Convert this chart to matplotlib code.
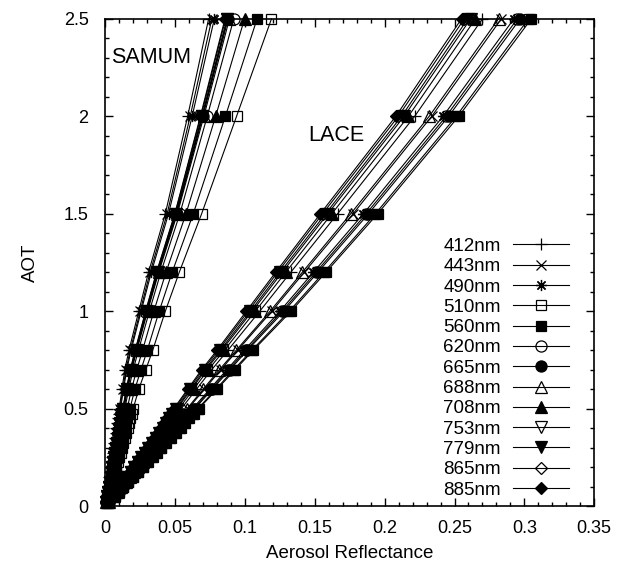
import matplotlib
matplotlib.use("Agg")
import matplotlib.pyplot as plt
from matplotlib.ticker import MultipleLocator, FuncFormatter

plt.rcParams['font.family'] = ['Liberation Sans', 'DejaVu Sans']

# AOT levels of the look-up table
aot = [0.02, 0.05, 0.075, 0.1, 0.125, 0.15, 0.175, 0.2, 0.225, 0.25, 0.275, 0.3,
       0.325, 0.35, 0.375, 0.4, 0.425, 0.45, 0.475, 0.5, 0.6, 0.7, 0.8, 1.0,
       1.2, 1.5, 2.0, 2.5]

wavelengths = ["412nm", "443nm", "490nm", "510nm", "560nm", "620nm", "665nm",
               "688nm", "708nm", "753nm", "779nm", "865nm", "885nm"]

# aerosol reflectance, SAMUM (dust) case
samum_412 = [0.0005, 0.0010, 0.0015, 0.0020, 0.0025, 0.0030, 0.0035, 0.0040, 0.0045, 0.0050, 0.0055, 0.0060, 0.0065, 0.0070, 0.0075, 0.0080, 0.0085, 0.0090, 0.0095, 0.0100, 0.0120, 0.0140, 0.0170, 0.0240, 0.0310, 0.0430, 0.0590, 0.0740]
samum_443 = [0.0005, 0.0011, 0.0016, 0.0022, 0.0027, 0.0032, 0.0037, 0.0042, 0.0047, 0.0053, 0.0058, 0.0063, 0.0068, 0.0074, 0.0079, 0.0084, 0.0089, 0.0095, 0.0100, 0.0105, 0.0126, 0.0148, 0.0179, 0.0250, 0.0321, 0.0443, 0.0608, 0.0763]
samum_490 = [0.0006, 0.0012, 0.0017, 0.0023, 0.0028, 0.0034, 0.0039, 0.0044, 0.0049, 0.0055, 0.0060, 0.0065, 0.0070, 0.0076, 0.0081, 0.0087, 0.0092, 0.0098, 0.0103, 0.0109, 0.0131, 0.0154, 0.0185, 0.0257, 0.0330, 0.0453, 0.0622, 0.0781]
samum_510 = [0.0015, 0.0030, 0.0040, 0.0050, 0.0060, 0.0070, 0.0075, 0.0080, 0.0090, 0.0100, 0.0110, 0.0120, 0.0130, 0.0140, 0.0150, 0.0160, 0.0170, 0.0180, 0.0190, 0.0200, 0.0240, 0.0290, 0.0340, 0.0430, 0.0530, 0.0690, 0.0940, 0.1190]
samum_560 = [0.0013, 0.0025, 0.0034, 0.0043, 0.0052, 0.0061, 0.0066, 0.0071, 0.0080, 0.0089, 0.0097, 0.0106, 0.0115, 0.0124, 0.0133, 0.0142, 0.0150, 0.0159, 0.0168, 0.0177, 0.0212, 0.0256, 0.0301, 0.0386, 0.0479, 0.0630, 0.0860, 0.1087]
samum_620 = [0.0009, 0.0018, 0.0025, 0.0032, 0.0039, 0.0046, 0.0051, 0.0056, 0.0063, 0.0070, 0.0077, 0.0084, 0.0091, 0.0098, 0.0105, 0.0112, 0.0119, 0.0126, 0.0133, 0.0140, 0.0168, 0.0200, 0.0238, 0.0316, 0.0398, 0.0534, 0.0730, 0.0920]
samum_665 = [0.0008, 0.0016, 0.0022, 0.0029, 0.0035, 0.0042, 0.0047, 0.0052, 0.0059, 0.0066, 0.0072, 0.0079, 0.0085, 0.0092, 0.0098, 0.0105, 0.0111, 0.0118, 0.0124, 0.0131, 0.0157, 0.0187, 0.0223, 0.0299, 0.0378, 0.0511, 0.0699, 0.0880]
samum_688 = [0.0008, 0.0017, 0.0023, 0.0030, 0.0036, 0.0043, 0.0048, 0.0053, 0.0060, 0.0067, 0.0073, 0.0080, 0.0086, 0.0093, 0.0099, 0.0106, 0.0113, 0.0120, 0.0126, 0.0133, 0.0160, 0.0190, 0.0226, 0.0303, 0.0383, 0.0516, 0.0706, 0.0889]
samum_708 = [0.0011, 0.0021, 0.0029, 0.0037, 0.0045, 0.0053, 0.0058, 0.0063, 0.0071, 0.0079, 0.0086, 0.0094, 0.0102, 0.0110, 0.0118, 0.0126, 0.0133, 0.0141, 0.0149, 0.0157, 0.0188, 0.0226, 0.0267, 0.0348, 0.0435, 0.0578, 0.0790, 0.0997]
samum_753 = [0.0008, 0.0016, 0.0022, 0.0029, 0.0035, 0.0042, 0.0047, 0.0052, 0.0058, 0.0065, 0.0071, 0.0078, 0.0084, 0.0091, 0.0097, 0.0104, 0.0110, 0.0117, 0.0123, 0.0130, 0.0156, 0.0185, 0.0221, 0.0297, 0.0376, 0.0508, 0.0695, 0.0875]
samum_779 = [0.0008, 0.0016, 0.0022, 0.0029, 0.0035, 0.0042, 0.0047, 0.0052, 0.0058, 0.0065, 0.0071, 0.0077, 0.0083, 0.0090, 0.0096, 0.0103, 0.0109, 0.0116, 0.0122, 0.0129, 0.0155, 0.0184, 0.0219, 0.0295, 0.0374, 0.0505, 0.0692, 0.0871]
samum_865 = [0.0008, 0.0015, 0.0021, 0.0028, 0.0034, 0.0041, 0.0046, 0.0051, 0.0057, 0.0064, 0.0070, 0.0076, 0.0082, 0.0089, 0.0095, 0.0102, 0.0108, 0.0114, 0.0120, 0.0127, 0.0152, 0.0181, 0.0216, 0.0291, 0.0369, 0.0500, 0.0685, 0.0862]
samum_885 = [0.0008, 0.0015, 0.0021, 0.0028, 0.0034, 0.0040, 0.0045, 0.0050, 0.0056, 0.0063, 0.0069, 0.0076, 0.0082, 0.0088, 0.0094, 0.0101, 0.0107, 0.0113, 0.0119, 0.0126, 0.0151, 0.0179, 0.0214, 0.0289, 0.0367, 0.0498, 0.0681, 0.0857]

# aerosol reflectance, LACE (continental) case
lace_412 = [0.0023, 0.0056, 0.0083, 0.0109, 0.0137, 0.0165, 0.0193, 0.0221, 0.0249, 0.0277, 0.0304, 0.0330, 0.0358, 0.0386, 0.0414, 0.0442, 0.0465, 0.0488, 0.0516, 0.0544, 0.0653, 0.0762, 0.0878, 0.1106, 0.1328, 0.1663, 0.2215, 0.2700]
lace_443 = [0.0026, 0.0061, 0.0089, 0.0117, 0.0148, 0.0179, 0.0210, 0.0240, 0.0271, 0.0301, 0.0329, 0.0357, 0.0388, 0.0418, 0.0449, 0.0480, 0.0506, 0.0531, 0.0562, 0.0593, 0.0710, 0.0827, 0.0948, 0.1192, 0.1425, 0.1774, 0.2337, 0.2835]
lace_490 = [0.0028, 0.0065, 0.0094, 0.0123, 0.0156, 0.0188, 0.0221, 0.0253, 0.0286, 0.0318, 0.0347, 0.0375, 0.0408, 0.0440, 0.0473, 0.0505, 0.0533, 0.0560, 0.0593, 0.0625, 0.0748, 0.0870, 0.0995, 0.1250, 0.1490, 0.1848, 0.2418, 0.2925]
lace_510 = [0.0030, 0.0069, 0.0099, 0.0129, 0.0164, 0.0198, 0.0233, 0.0267, 0.0302, 0.0336, 0.0366, 0.0396, 0.0431, 0.0465, 0.0500, 0.0534, 0.0564, 0.0594, 0.0629, 0.0663, 0.0792, 0.0920, 0.1050, 0.1317, 0.1566, 0.1934, 0.2512, 0.3030]
lace_560 = [0.0030, 0.0070, 0.0100, 0.0130, 0.0165, 0.0200, 0.0235, 0.0270, 0.0305, 0.0340, 0.0370, 0.0400, 0.0435, 0.0470, 0.0505, 0.0540, 0.0570, 0.0600, 0.0635, 0.0670, 0.0800, 0.0930, 0.1060, 0.1330, 0.1580, 0.1950, 0.2530, 0.3050]
lace_620 = [0.0028, 0.0066, 0.0095, 0.0124, 0.0157, 0.0190, 0.0223, 0.0256, 0.0289, 0.0322, 0.0351, 0.0380, 0.0413, 0.0446, 0.0479, 0.0512, 0.0540, 0.0568, 0.0601, 0.0634, 0.0758, 0.0882, 0.1008, 0.1266, 0.1508, 0.1868, 0.2440, 0.2950]
lace_665 = [0.0028, 0.0067, 0.0096, 0.0125, 0.0159, 0.0192, 0.0226, 0.0259, 0.0293, 0.0326, 0.0355, 0.0384, 0.0418, 0.0451, 0.0485, 0.0518, 0.0546, 0.0574, 0.0608, 0.0641, 0.0766, 0.0892, 0.1018, 0.1279, 0.1522, 0.1884, 0.2458, 0.2970]
lace_688 = [0.0025, 0.0061, 0.0089, 0.0116, 0.0147, 0.0177, 0.0207, 0.0237, 0.0268, 0.0298, 0.0326, 0.0353, 0.0384, 0.0414, 0.0444, 0.0474, 0.0500, 0.0525, 0.0555, 0.0585, 0.0701, 0.0817, 0.0938, 0.1180, 0.1411, 0.1757, 0.2319, 0.2815]
lace_708 = [0.0022, 0.0054, 0.0080, 0.0106, 0.0133, 0.0160, 0.0187, 0.0214, 0.0241, 0.0268, 0.0294, 0.0320, 0.0347, 0.0374, 0.0401, 0.0428, 0.0450, 0.0472, 0.0499, 0.0526, 0.0632, 0.0738, 0.0852, 0.1074, 0.1292, 0.1622, 0.2170, 0.2650]
lace_753 = [0.0021, 0.0053, 0.0079, 0.0104, 0.0131, 0.0157, 0.0183, 0.0209, 0.0236, 0.0262, 0.0288, 0.0313, 0.0340, 0.0366, 0.0392, 0.0418, 0.0440, 0.0461, 0.0487, 0.0513, 0.0617, 0.0721, 0.0834, 0.1052, 0.1267, 0.1593, 0.2139, 0.2615]
lace_779 = [0.0021, 0.0052, 0.0078, 0.0103, 0.0129, 0.0155, 0.0181, 0.0206, 0.0232, 0.0258, 0.0284, 0.0309, 0.0335, 0.0361, 0.0387, 0.0413, 0.0434, 0.0454, 0.0480, 0.0506, 0.0609, 0.0712, 0.0823, 0.1039, 0.1252, 0.1577, 0.2121, 0.2595]
lace_865 = [0.0020, 0.0051, 0.0076, 0.0101, 0.0127, 0.0152, 0.0178, 0.0203, 0.0229, 0.0254, 0.0279, 0.0304, 0.0330, 0.0355, 0.0381, 0.0406, 0.0426, 0.0446, 0.0472, 0.0497, 0.0598, 0.0700, 0.0810, 0.1023, 0.1234, 0.1556, 0.2098, 0.2570]
lace_885 = [0.0020, 0.0050, 0.0075, 0.0100, 0.0125, 0.0150, 0.0175, 0.0200, 0.0225, 0.0250, 0.0275, 0.0300, 0.0325, 0.0350, 0.0375, 0.0400, 0.0420, 0.0440, 0.0465, 0.0490, 0.0590, 0.0690, 0.0800, 0.1010, 0.1220, 0.1540, 0.2080, 0.2550]

samum = [samum_412, samum_443, samum_490, samum_510, samum_560, samum_620, samum_665,
         samum_688, samum_708, samum_753, samum_779, samum_865, samum_885]
lace = [lace_412, lace_443, lace_490, lace_510, lace_560, lace_620, lace_665,
        lace_688, lace_708, lace_753, lace_779, lace_865, lace_885]

# gnuplot-like point types: (marker, filled, size)
styles = [("+", True, 8), ("x", True, 7), ((8, 2, 0), True, 8), ("s", False, 7.5),
          ("s", True, 7.5), ("o", False, 8), ("o", True, 8), ("^", False, 8),
          ("^", True, 8), ("v", False, 8), ("v", True, 8), ("D", False, 6),
          ("D", True, 6)]

fig = plt.figure(figsize=(6.19, 5.70), dpi=100)
ax = fig.add_axes([0.170, 0.112, 0.790, 0.855])

for i, wl in enumerate(wavelengths):
    mk, filled, ms = styles[i]
    fc = "black" if filled else "none"
    ax.plot(samum[i], aot, color="black", lw=0.8, marker=mk, ms=ms, mfc=fc,
            mec="black", mew=0.9, label=wl, clip_on=False)
for i, wl in enumerate(wavelengths):
    mk, filled, ms = styles[i]
    fc = "black" if filled else "none"
    ax.plot(lace[i], aot, color="black", lw=0.8, marker=mk, ms=ms, mfc=fc,
            mec="black", mew=0.9, clip_on=False)

ax.set_xlim(0, 0.35)
ax.set_ylim(0, 2.5)
ax.xaxis.set_major_locator(MultipleLocator(0.05))
ax.xaxis.set_minor_locator(MultipleLocator(0.01))
ax.yaxis.set_major_locator(MultipleLocator(0.5))
ax.yaxis.set_minor_locator(MultipleLocator(0.1))
fmt = FuncFormatter(lambda v, p: "%g" % round(v, 3))
ax.xaxis.set_major_formatter(fmt)
ax.yaxis.set_major_formatter(fmt)
ax.tick_params(which="both", direction="in", top=True, right=True, labelsize=13, width=1)
ax.tick_params(which="major", length=6)
ax.tick_params(which="minor", length=3)
ax.tick_params(axis="x", which="major", pad=10)
ax.tick_params(axis="y", which="major", pad=12)
for s in ax.spines.values():
    s.set_linewidth(1.2)

ax.set_xlabel("Aerosol Reflectance", fontsize=13.5, labelpad=6)
ax.set_ylabel("AOT", fontsize=13.5, labelpad=18)

ax.text(0.004, 2.30, "SAMUM", fontsize=15.5, ha="left", va="center")
ax.text(0.145, 1.90, "LACE", fontsize=15.5, ha="left", va="center")

ax.legend(loc="lower right", bbox_to_anchor=(0.964, 0.0), frameon=False,
          markerfirst=False, fontsize=13.5, handlelength=3.0, handletextpad=0.65,
          labelspacing=0.17, borderaxespad=0)

fig.savefig("out.png", dpi=100)
